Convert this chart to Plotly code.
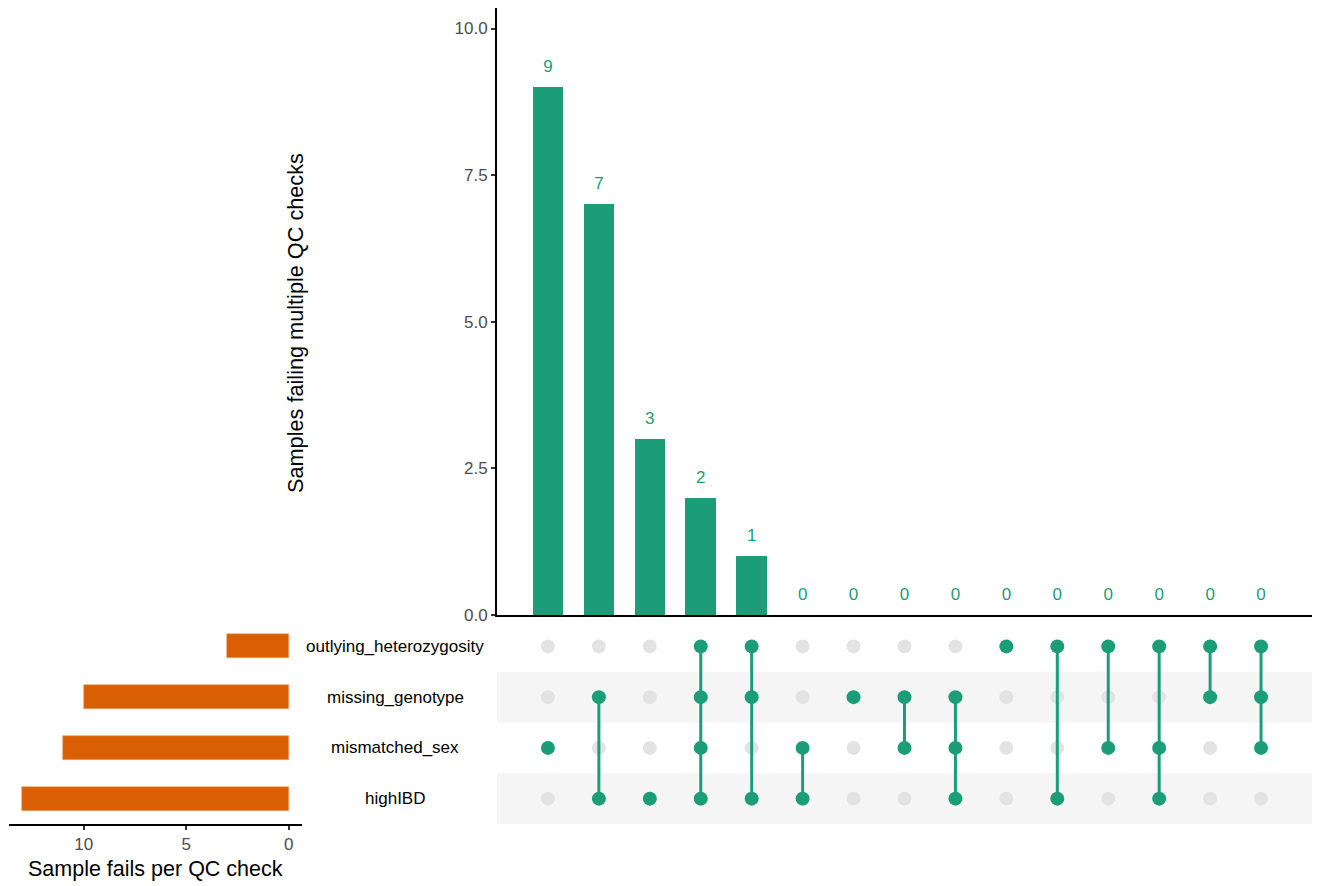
import plotly.graph_objects as go

# ---- data ----
sets = ["highIBD", "mismatched_sex", "missing_genotype", "outlying_heterozygosity"]  # bottom -> top
set_sizes = [13, 11, 10, 3]

intersection_counts = [9, 7, 3, 2, 1, 0, 0, 0, 0, 0, 0, 0, 0, 0, 0]
intersection_members = [
    ["mismatched_sex"],
    ["missing_genotype", "highIBD"],
    ["highIBD"],
    ["outlying_heterozygosity", "missing_genotype", "mismatched_sex", "highIBD"],
    ["outlying_heterozygosity", "missing_genotype", "highIBD"],
    ["mismatched_sex", "highIBD"],
    ["missing_genotype"],
    ["missing_genotype", "mismatched_sex"],
    ["missing_genotype", "mismatched_sex", "highIBD"],
    ["outlying_heterozygosity"],
    ["outlying_heterozygosity", "highIBD"],
    ["outlying_heterozygosity", "mismatched_sex"],
    ["outlying_heterozygosity", "mismatched_sex", "highIBD"],
    ["outlying_heterozygosity", "missing_genotype"],
    ["outlying_heterozygosity", "missing_genotype", "mismatched_sex"],
]

GREEN = "#1b9e77"
ORANGE = "#d95f02"
GREY_DOT = "#e3e3e3"
STRIPE = "#f5f5f5"
FONT = "Liberation Sans, Arial, sans-serif"

# page has an 8px body margin; figure origin is at (8, 8) in the window
OFF = 8
W, H = 1320 - OFF, 886 - OFF
H_DECL = 888  # declared height (rendered slightly shorter in the viewer)
def px_x(p): return (p - OFF) / W
def px_y(p): return (H - (p - OFF)) / H

n = len(intersection_counts)
cols = list(range(n))

fig = go.Figure()

# ---- top intersection bars ----
fig.add_trace(go.Bar(x=cols, y=intersection_counts, marker=dict(color=GREEN, line_width=0), width=0.6,
                     xaxis="x", yaxis="y", showlegend=False, hoverinfo="y"))
fig.add_trace(go.Scatter(x=cols, y=[v + 0.33 for v in intersection_counts],
                         text=[str(v) for v in intersection_counts], mode="text",
                         textfont=dict(color=GREEN, size=17, family=FONT),
                         textposition="middle center", xaxis="x", yaxis="y",
                         showlegend=False, hoverinfo="skip", cliponaxis=False))

# ---- matrix ----
row_of = {s: i for i, s in enumerate(sets)}
gx, gy, fx, fy = [], [], [], []
for c, members in enumerate(intersection_members):
    rows = [row_of[m] for m in members]
    for s in sets:
        r = row_of[s]
        if r in rows:
            fx.append(c); fy.append(r)
        else:
            gx.append(c); gy.append(r)
fig.add_trace(go.Scatter(x=gx, y=gy, mode="markers", marker=dict(color=GREY_DOT, size=14),
                         xaxis="x2", yaxis="y2", showlegend=False, hoverinfo="skip"))
for c, members in enumerate(intersection_members):
    rows = [row_of[m] for m in members]
    if len(rows) > 1:
        fig.add_trace(go.Scatter(x=[c, c], y=[min(rows), max(rows)], mode="lines",
                                 line=dict(color=GREEN, width=3),
                                 xaxis="x2", yaxis="y2", showlegend=False, hoverinfo="skip"))
fig.add_trace(go.Scatter(x=fx, y=fy, mode="markers", marker=dict(color=GREEN, size=14),
                         xaxis="x2", yaxis="y2", showlegend=False, hoverinfo="skip"))

# ---- set size bars ----
fig.add_trace(go.Bar(y=list(range(len(sets))), x=set_sizes, orientation="h",
                     marker=dict(color=ORANGE, line=dict(color="#f0a070", width=0.6)), width=0.47,
                     xaxis="x3", yaxis="y3", showlegend=False, hoverinfo="x"))

# stripes
shapes = []
for s in ["highIBD", "missing_genotype"]:
    r = row_of[s]
    shapes.append(dict(type="rect", xref="x2 domain", yref="y2", x0=0, x1=1,
                       y0=r - 0.5, y1=r + 0.5, fillcolor=STRIPE, line_width=0, layer="below"))

annotations = []
for s in sets:
    annotations.append(dict(text=s, x=px_x(395), y=row_of[s], xref="paper", yref="y2",
                            showarrow=False, xanchor="center", yanchor="middle",
                            font=dict(size=17, color="black", family=FONT)))
annotations.append(dict(text="Samples failing multiple QC checks", x=px_x(295), y=px_y(323),
                        xref="paper", yref="paper", showarrow=False, textangle=-90,
                        xanchor="center", yanchor="middle",
                        font=dict(size=21.7, color="black", family=FONT)))
annotations.append(dict(text="Sample fails per QC check", x=px_x(155), y=px_y(869),
                        xref="paper", yref="paper", showarrow=False,
                        xanchor="center", yanchor="middle",
                        font=dict(size=21.5, color="black", family=FONT)))

top_dom_y = [px_y(615), px_y(8)]
mat_dom_y = [px_y(824), px_y(621)]
mat_dom_x = [px_x(497), px_x(1313)]

fig.update_layout(
    width=W, height=H_DECL, margin=dict(l=0, r=0, t=0, b=0),
    plot_bgcolor="white", paper_bgcolor="white",
    font=dict(family=FONT),
    bargap=0,
    shapes=shapes, annotations=annotations,
    xaxis=dict(domain=mat_dom_x, range=[-1, 15.02], showticklabels=False, ticks="",
               showgrid=False, zeroline=False, showline=True, linecolor="black", linewidth=2),
    yaxis=dict(domain=top_dom_y, range=[0, 10.35], tickvals=[0, 2.5, 5, 7.5, 10],
               tickformat=".1f", ticks="outside", ticklen=4, tickcolor="#333333", tickwidth=1.5,
               tickfont=dict(size=17, color="#4d4d4d", family=FONT),
               showgrid=False, zeroline=False, showline=True, linecolor="black", linewidth=2),
    xaxis2=dict(domain=mat_dom_x, range=[-1, 15.02], visible=False, anchor="y2"),
    yaxis2=dict(domain=mat_dom_y, range=[-0.5, 3.5], visible=False, anchor="x2"),
    xaxis3=dict(domain=[px_x(9), px_x(302)], range=[13.65, -0.65], anchor="y3",
                tickvals=[0, 5, 10], ticks="outside", ticklen=4, tickcolor="#333333", tickwidth=1.5,
                tickfont=dict(size=17, color="#4d4d4d", family=FONT),
                showgrid=False, zeroline=False, showline=True, linecolor="black", linewidth=1.5),
    yaxis3=dict(domain=mat_dom_y, range=[-0.5, 3.5], visible=False, anchor="x3"),
)

fig.write_html("out.html")
